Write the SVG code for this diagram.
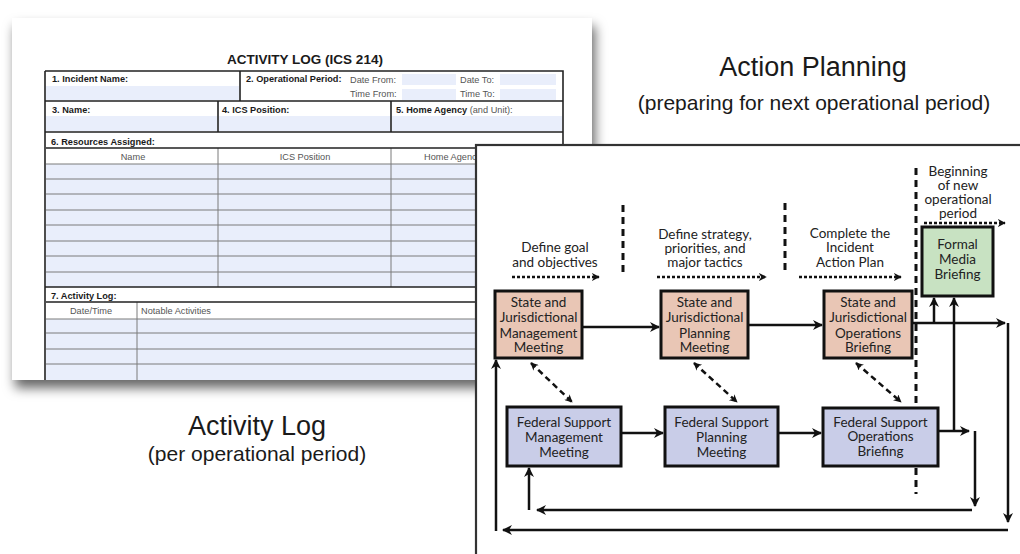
<svg xmlns="http://www.w3.org/2000/svg" width="1020" height="554" viewBox="0 0 1020 554">
<style>
.fb{font-family:"Liberation Sans",Arial,sans-serif;font-size:9.2px;font-weight:bold;fill:#1a1a1a}
.fr{font-family:"Liberation Sans",Arial,sans-serif;font-size:9.2px;fill:#555}
.cap{font-family:"Liberation Sans",Arial,sans-serif;fill:#1a1a1a;text-anchor:middle}
.dg{font-family:Lato,"Open Sans",sans-serif;font-size:13.5px;fill:#222;text-anchor:middle}
.st{fill:#e9c6b5;stroke:#111;stroke-width:3}
.fd{fill:#c9cde8;stroke:#111;stroke-width:3}
.gr{fill:#c8e2c2;stroke:#111;stroke-width:3}
.in{fill:#e9eefb}
.tl{stroke:#222;stroke-width:1.6;fill:none}
.gl{stroke:#7a7a7a;stroke-width:1;fill:none}
.sol{stroke:#111;stroke-width:2.5;fill:none}
.dot{stroke:#111;stroke-width:2.5;stroke-dasharray:3 2;fill:none}
.dsh{stroke:#111;stroke-width:2.5;stroke-dasharray:6 4;fill:none}
.vd{stroke:#111;stroke-width:3;stroke-dasharray:7 5;fill:none}
</style>
<defs>
<filter id="sh" x="-10%" y="-10%" width="125%" height="130%">
<feDropShadow dx="3" dy="8" stdDeviation="6" flood-color="#000" flood-opacity="0.6"/>
</filter>
<marker id="ah" viewBox="0 0 10 10" refX="9" refY="5" markerWidth="11" markerHeight="10" markerUnits="userSpaceOnUse" orient="auto-start-reverse">
<path d="M0,0 L10,5 L0,10 L3,5 z" fill="#111"/>
</marker>
<marker id="as" viewBox="0 0 10 10" refX="9" refY="5" markerWidth="8" markerHeight="8" markerUnits="userSpaceOnUse" orient="auto-start-reverse">
<path d="M0,0 L10,5 L0,10 L3,5 z" fill="#111"/>
</marker>
</defs>
<rect width="1020" height="554" fill="#fff"/>

<!-- Activity log form page -->
<g id="form">
<rect x="12" y="18" width="580" height="362" fill="#fff" filter="url(#sh)"/>
<text x="305" y="64" class="cap" style="font-size:13.5px;font-weight:bold">ACTIVITY LOG (ICS 214)</text>
<!-- input fills -->
<rect class="in" x="46" y="86" width="193" height="14"/>
<rect class="in" x="402" y="74" width="54" height="11"/>
<rect class="in" x="500" y="74" width="56" height="11"/>
<rect class="in" x="402" y="89" width="54" height="11"/>
<rect class="in" x="500" y="89" width="56" height="11"/>
<rect class="in" x="46" y="116" width="171" height="15"/>
<rect class="in" x="219" y="116" width="171" height="15"/>
<rect class="in" x="392" y="116" width="170" height="15"/>
<rect class="in" x="46" y="164" width="517" height="123"/>
<rect class="in" x="46" y="319" width="517" height="61"/>
<!-- grid lines -->
<path class="gl" d="M46,179H563M46,194H563M46,210H563M46,225H563M46,241H563M46,256H563M46,272H563M46,164H563"/>
<path class="gl" d="M46,333H563M46,349H563M46,364H563M46,319H563"/>
<path class="gl" d="M218,148V287M391,148V287M137,302V380"/>
<path class="tl" d="M45,71H563V287M45,71V380M45,101H563M45,132H563M240,71V101M218,101V132M391,101V132M46,148H563M45,287H563M46,302H563"/>
<!-- labels -->
<text x="52" y="82" class="fb">1. Incident Name:</text>
<text x="246" y="82" class="fb">2. Operational Period:</text>
<text x="350" y="83" class="fr">Date From:</text>
<text x="460" y="83" class="fr">Date To:</text>
<text x="350" y="97" class="fr">Time From:</text>
<text x="460" y="97" class="fr">Time To:</text>
<text x="52" y="113" class="fb">3. Name:</text>
<text x="222" y="113" class="fb">4. ICS Position:</text>
<text x="396" y="113" class="fb">5. Home Agency <tspan style="font-weight:normal;fill:#555">(and Unit):</tspan></text>
<text x="51" y="145" class="fb">6. Resources Assigned:</text>
<text x="133" y="160" class="fr" text-anchor="middle">Name</text>
<text x="305" y="160" class="fr" text-anchor="middle">ICS Position</text>
<text x="424" y="160" class="fr">Home Agency</text>
<text x="51" y="299" class="fb">7. Activity Log:</text>
<text x="91" y="314" class="fr" text-anchor="middle">Date/Time</text>
<text x="141" y="314" class="fr">Notable Activities</text>
</g>

<!-- captions -->
<text x="813" y="76" class="cap" style="font-size:27px">Action Planning</text>
<text x="814" y="110" class="cap" style="font-size:21px">(preparing for next operational period)</text>
<text x="257" y="435" class="cap" style="font-size:27px">Activity Log</text>
<text x="257" y="461" class="cap" style="font-size:21px">(per operational period)</text>

<!-- action planning panel -->
<rect id="panel" x="476" y="145" width="560" height="420" fill="#fff" stroke="#333" stroke-width="2.2"/>

<g id="phase-lines">
<path class="vd" d="M623,205V277"/>
<path class="vd" d="M785,203V275"/>
<path class="vd" d="M916,168V494"/>
</g>

<g id="phase-labels">
<text class="dg" x="555" y="252">Define goal</text>
<text class="dg" x="555" y="267">and objectives</text>
<text class="dg" x="705" y="239">Define strategy,</text>
<text class="dg" x="705" y="253">priorities, and</text>
<text class="dg" x="705" y="267">major tactics</text>
<text class="dg" x="850" y="238">Complete the</text>
<text class="dg" x="850" y="252">Incident</text>
<text class="dg" x="850" y="267">Action Plan</text>
<text class="dg" x="958" y="176">Beginning</text>
<text class="dg" x="958" y="190">of new</text>
<text class="dg" x="958" y="204">operational</text>
<text class="dg" x="958" y="218">period</text>
</g>

<g id="connectors">
<path class="dot" d="M512,277H599" marker-end="url(#as)"/>
<path class="dot" d="M657,277H766" marker-end="url(#as)"/>
<path class="dot" d="M799,277H901" marker-end="url(#as)"/>
<path class="dot" d="M924,223H1005" marker-end="url(#as)"/>
<path class="sol" d="M582,327H659" marker-end="url(#ah)"/>
<path class="sol" d="M748,325H822" marker-end="url(#ah)"/>
<path class="sol" d="M912,323H1005" marker-end="url(#ah)"/>
<path class="sol" d="M934,323V298" marker-end="url(#ah)"/>
<path class="sol" d="M954,431V298" marker-end="url(#ah)"/>
<path class="sol" d="M621,433H663" marker-end="url(#ah)"/>
<path class="sol" d="M778,433H821" marker-end="url(#ah)"/>
<path class="sol" d="M938,431H969" marker-end="url(#ah)"/>
<path class="sol" d="M975,431V506" marker-end="url(#ah)"/>
<path class="sol" d="M972,510H537" marker-end="url(#ah)"/>
<path class="sol" d="M529,510V468" marker-end="url(#ah)"/>
<path class="sol" d="M1008,323V522" marker-end="url(#ah)"/>
<path class="sol" d="M1008,530H503" marker-end="url(#ah)"/>
<path class="sol" d="M496,531V360" marker-end="url(#ah)"/>
<path class="dsh" d="M531,363L572,402" marker-start="url(#as)" marker-end="url(#as)"/>
<path class="dsh" d="M694,363L737,402" marker-start="url(#as)" marker-end="url(#as)"/>
<path class="dsh" d="M856,363L901,402" marker-start="url(#as)" marker-end="url(#as)"/>
</g>

<g id="state-mgmt">
<rect class="st" x="495" y="291" width="87" height="67"/>
<text class="dg" x="538.5" y="307">State and</text>
<text class="dg" x="538.5" y="322">Jurisdictional</text>
<text class="dg" x="538.5" y="338">Management</text>
<text class="dg" x="538.5" y="352">Meeting</text>
</g>
<g id="state-plan">
<rect class="st" x="661" y="291" width="87" height="67"/>
<text class="dg" x="704.5" y="307">State and</text>
<text class="dg" x="704.5" y="322">Jurisdictional</text>
<text class="dg" x="704.5" y="338">Planning</text>
<text class="dg" x="704.5" y="352">Meeting</text>
</g>
<g id="state-ops">
<rect class="st" x="824" y="291" width="88" height="67"/>
<text class="dg" x="868" y="307">State and</text>
<text class="dg" x="868" y="322">Jurisdictional</text>
<text class="dg" x="868" y="338">Operations</text>
<text class="dg" x="868" y="352">Briefing</text>
</g>
<g id="media">
<rect class="gr" x="922" y="227" width="71" height="69"/>
<text class="dg" x="957.5" y="249">Formal</text>
<text class="dg" x="957.5" y="264">Media</text>
<text class="dg" x="957.5" y="279">Briefing</text>
</g>
<g id="fed-mgmt">
<rect class="fd" x="507" y="407" width="114" height="59"/>
<text class="dg" x="564" y="427">Federal Support</text>
<text class="dg" x="564" y="442">Management</text>
<text class="dg" x="564" y="457">Meeting</text>
</g>
<g id="fed-plan">
<rect class="fd" x="665" y="407" width="113" height="59"/>
<text class="dg" x="721.5" y="427">Federal Support</text>
<text class="dg" x="721.5" y="442">Planning</text>
<text class="dg" x="721.5" y="457">Meeting</text>
</g>
<g id="fed-ops">
<rect class="fd" x="823" y="408" width="115" height="58"/>
<text class="dg" x="880.5" y="427">Federal Support</text>
<text class="dg" x="880.5" y="441">Operations</text>
<text class="dg" x="880.5" y="456">Briefing</text>
</g>
</svg>
